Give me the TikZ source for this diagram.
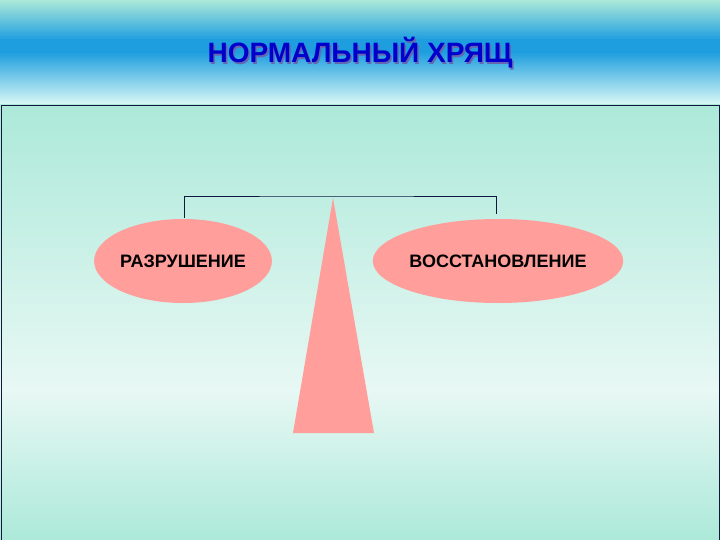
\documentclass[tikz,border=0pt]{standalone}
\usepackage{fontspec}
\setmainfont{Liberation Sans}
\usetikzlibrary{shapes.geometric}
\begin{document}
\begin{tikzpicture}[x=1pt,y=-1pt,
  blob/.style={ellipse,fill=salmon,minimum width=176pt,minimum height=84pt,font=\bfseries\fontsize{18}{20}\selectfont,text=black,inner sep=0pt},
  link/.style={draw=navy,line width=0.8pt}]
\definecolor{salmon}{HTML}{FF9E9A}
\definecolor{navy}{HTML}{101840}
\definecolor{mint}{HTML}{ACE9D9}
\definecolor{sky}{HTML}{1E9EDF}
\definecolor{pale}{HTML}{E8F8F4}
\useasboundingbox (0,0) rectangle (720,540);
\shade[top color=mint,bottom color=sky] (0,0) rectangle (720,40);
\shade[top color=sky,bottom color=sky] (0,40) rectangle (720,52);
\shade[top color=sky,bottom color=mint!80!cyan!30] (0,52) rectangle (720,105);
\shade[top color=mint,bottom color=pale] (0,105) rectangle (720,390);
\shade[top color=pale,bottom color=mint] (0,390) rectangle (720,540);
\draw[navy,line width=0.8pt] (1,540) -- (1,105) -- (719,105) -- (719,540);
\node[font=\bfseries\fontsize{28}{32}\selectfont,text=blue!50!black!60] (shadow) at (361.5,54.5) {НОРМАЛЬНЫЙ ХРЯЩ};
\node[font=\bfseries\fontsize{28}{32}\selectfont,text=blue!80!black] (title) at (360,53) {НОРМАЛЬНЫЙ ХРЯЩ};
\coordinate (apex) at (333,198);
\coordinate (bl) at (293,433);
\coordinate (br) at (374,433);
\fill[salmon] (apex) -- (br) -- (bl) -- cycle;
\coordinate (lt) at (184,218);
\coordinate (rt) at (496,214);
\draw[link] (lt) |- (333,196) -| (rt);
\node[blob] (destr) at (183,261) {РАЗРУШЕНИЕ};
\node[blob] (restr) at (498,261) {ВОССТАНОВЛЕНИЕ};
\end{tikzpicture}
\end{document}
